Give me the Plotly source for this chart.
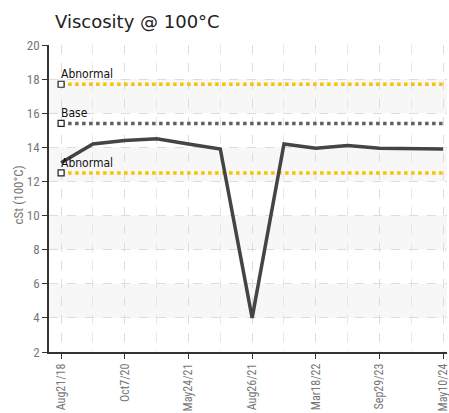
import plotly.graph_objects as go

# ---- data ----
sample_idx = list(range(13))
viscosity = [13.1, 14.2, 14.4, 14.5, 14.2, 13.9, 4.0, 14.2, 13.95, 14.1, 13.95, 13.9, 13.9]
tick_idx = [0, 2, 4, 6, 8, 10, 12]
tick_labels = ["Aug21/18", "Oct7/20", "May24/21", "Aug26/21", "Mar18/22", "Sep29/23", "May10/24"]
limit_names = ["Abnormal", "Base", "Abnormal"]
limit_values = [17.7, 15.4, 12.5]
limit_colors = ["#f7c200", "#606060", "#f7c200"]
band_ranges = [(4, 6), (8, 10), (12, 14), (16, 18)]

W, H = 449, 413
ml, mr, mt, mb = 49, 2, 45, 61
pw = W - ml - mr

fig = go.Figure()

for lo, hi in band_ranges:
    fig.add_shape(type="rect", xref="paper", x0=0, x1=1, yref="y", y0=lo, y1=hi,
                  fillcolor="#f7f7f7", line=dict(width=0), layer="below")

for name, val, col in zip(limit_names, limit_values, limit_colors):
    fig.add_trace(go.Scatter(
        x=[sample_idx[0], sample_idx[-1]], y=[val, val], mode="lines",
        line=dict(color=col, width=3.5, dash="dot"), hoverinfo="skip", showlegend=False))

fig.add_trace(go.Scatter(
    x=sample_idx, y=viscosity, mode="lines",
    line=dict(color="#444444", width=3.5), showlegend=False))

fig.add_trace(go.Scatter(
    x=[sample_idx[0]] * len(limit_values), y=limit_values, mode="markers",
    marker=dict(symbol="square", size=6, color="white", line=dict(color="#222", width=1.2)),
    hoverinfo="skip", showlegend=False, cliponaxis=False))

annotations = []
for name, val in zip(limit_names, limit_values):
    annotations.append(dict(text=name, x=sample_idx[0], y=val, xref="x", yref="y",
                            xanchor="left", yanchor="bottom", xshift=-2, yshift=1, showarrow=False,
                            font=dict(family="DejaVu Sans Condensed, DejaVu Sans", size=12, color="#111")))

cond = "Liberation Sans Narrow, Roboto Condensed, Roboto"

annotations.append(dict(text="cSt (100°C)", xref="paper", yref="paper",
                        x=-(ml - 18) / pw, y=0.51, xanchor="center", yanchor="middle",
                        textangle=-90, showarrow=False,
                        font=dict(family=cond, size=13, color="#777")))

fig.update_layout(
    width=W, height=H,
    margin=dict(l=ml, r=mr, t=mt, b=mb, autoexpand=False),
    paper_bgcolor="white", plot_bgcolor="white",
    title=dict(text="Viscosity @ 100°C", x=55 / W, xanchor="left", y=1 - 22 / H, yanchor="middle",
               font=dict(family="DejaVu Sans", size=18, color="#222")),
    xaxis=dict(range=[-0.38, 12.12], tickmode="array", tickvals=tick_idx, ticktext=tick_labels,
               tickangle=-90, tickfont=dict(family=cond, size=12, color="#777"),
               ticks="outside", ticklen=5, tickcolor="#333",
               ticklabeloverflow="allow",
               showline=True, linecolor="#333", linewidth=1.5, automargin=False,
               showgrid=True, gridcolor="#dddddd", griddash="dash", gridwidth=1,
               minor=dict(tickmode="array", tickvals=[1, 3, 5, 7, 9, 11], showgrid=True,
                          gridcolor="#e6e6e6", griddash="dash", ticks=""),
               zeroline=False),
    yaxis=dict(range=[2, 20], dtick=2,
               tickfont=dict(family=cond, size=13, color="#777"),
               ticks="outside", ticklen=5, tickcolor="#333", automargin=False,
               showline=True, linecolor="#333", linewidth=1.5,
               showgrid=True, gridcolor="#dddddd", griddash="dash", gridwidth=1, zeroline=False),
    annotations=annotations,
)

fig.write_html("out.html", config={"displayModeBar": False},
               post_script="document.body.style.margin='0';document.body.style.overflow='hidden';")
